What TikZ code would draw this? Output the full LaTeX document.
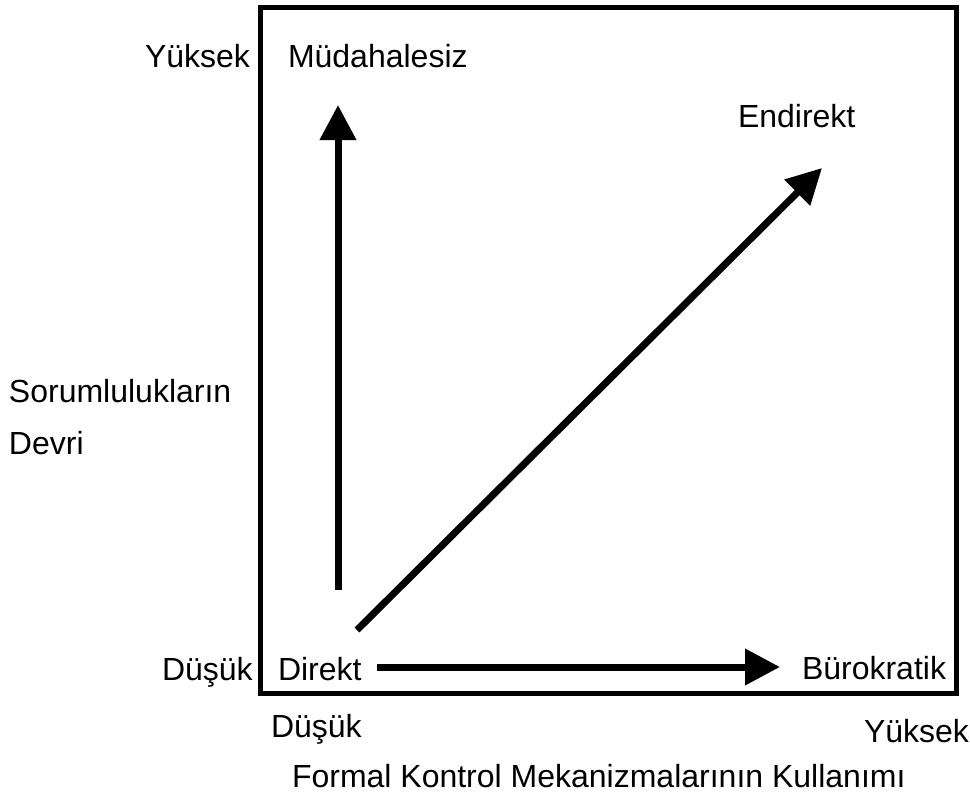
\documentclass[tikz,border=0pt]{standalone}
\usepackage{fontspec}
\setmainfont{Liberation Sans}
\usetikzlibrary{arrows.meta}
\tikzset{
  lbl/.style={anchor=base west,inner sep=0pt,outer sep=0pt,font=\fontsize{32}{38}\selectfont},
  bigarrow/.style={line width=7pt,-{Triangle[length=35pt,width=35pt]}},
  frame/.style={line width=5pt}
}
\begin{document}
\begin{tikzpicture}[x=1pt,y=-1pt]
\useasboundingbox (0,0) rectangle (970,801);
\draw[frame] (260,7.5) rectangle (956,693);
% labels
\node[lbl] (ytop) at (145,67) {Yüksek};
\node[lbl] (mud) at (288,67) {Müdahalesiz};
\node[lbl] (end) at (738,127) {Endirekt};
\node[lbl] (sor) at (9,402) {Sorumlulukların};
\node[lbl] (dev) at (9,454) {Devri};
\node[lbl] (dleft) at (162,680) {Düşük};
\node[lbl] (dir) at (278,680) {Direkt};
\node[lbl] (bur) at (802,679) {Bürokratik};
\node[lbl] (dbot) at (271,737) {Düşük};
\node[lbl] (ybot) at (864,742) {Yüksek};
\node[lbl] (form) at (292,787) {Formal Kontrol Mekanizmalarının Kullanımı};
% arrow endpoints
\coordinate (vs) at (338,590);
\coordinate (ve) at (338,105);
\coordinate (ds) at (357,630);
\coordinate (de) at (822,168);
\coordinate (hs) at (377,667);
\coordinate (he) at (780,667);
\draw[bigarrow] (vs) -- (ve);
\draw[bigarrow] (ds) -- (de);
\draw[bigarrow] (hs) -- (he);
\end{tikzpicture}
\end{document}
